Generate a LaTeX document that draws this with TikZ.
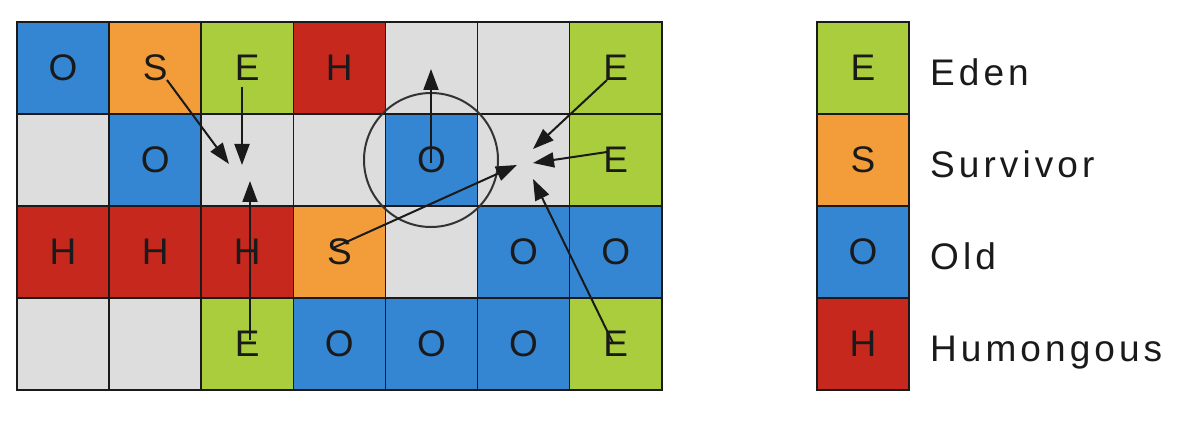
\documentclass[tikz,border=0pt]{standalone}
\usepackage{fontspec}
\setmainfont{Liberation Sans}
\usetikzlibrary{arrows.meta,calc}
\definecolor{cE}{HTML}{A9CD3C}
\definecolor{cS}{HTML}{F39D3A}
\definecolor{cO}{HTML}{3586D2}
\definecolor{cH}{HTML}{C7281E}
\definecolor{cG}{HTML}{DDDDDD}
\definecolor{ink}{HTML}{1A1A1A}
\begin{document}
\begin{tikzpicture}[x=1pt,y=-1pt,
  cell/.style={draw=ink,line width=1.6pt,minimum width=92.1pt,minimum height=92pt,inner sep=0pt,
    font=\fontsize{37}{44}\selectfont,text=ink},
  cellE/.style={fill=cE},
  cellS/.style={fill=cS},
  cellO/.style={fill=cO},
  cellH/.style={fill=cH},
  cellG/.style={fill=cG},
  lbl/.style={anchor=base west,inner sep=0pt,text=ink,
    font=\fontsize{37}{44}\selectfont\addfontfeature{LetterSpace=11}},
  arr/.style={line width=2pt,draw=ink,-{Triangle[length=21pt,width=15pt]}},
  ring/.style={draw=black!80,line width=2pt,circle,minimum size=134pt,inner sep=0pt}]
\useasboundingbox (0,0) rectangle (1192,446);
\fill[white] (0,0) rectangle (1192,446);
\foreach \t/\l [count=\i from 0] in {O/O,S/S,E/E,H/H,G/,G/,E/E, G/,O/O,G/,G/,O/O,G/,E/E, H/H,H/H,H/H,S/S,G/,O/O,O/O, G/,G/,E/E,O/O,O/O,O/O,E/E} {
  \pgfmathtruncatemacro\c{mod(\i,7)}
  \pgfmathtruncatemacro\r{div(\i,7)}
  \node[cell,cell\t] (c\c\r) at ({17+92.1*(\c+0.5)},{22+92*(\r+0.5)}) {\l};
}
% legend
\foreach \t/\n [count=\r from 0] in {E/Eden,S/Survivor,O/Old,H/Humongous} {
  \node[cell,cell\t,minimum width=92pt] (l\r) at (863,{22+92*(\r+0.5)}) {\t};
  \node[lbl] (t\r) at (930,{22+92*(\r+0.5)+18}) {\n};
}
% ring
\node[ring] (ring) at (431,160) {};
% arrow end points
\coordinate (s1) at (167,80);  \coordinate (e1) at (229,164);
\coordinate (s2) at (242,87);  \coordinate (e2) at (242,165);
\coordinate (s3) at (250,340); \coordinate (e3) at (250,181);
\coordinate (s4) at (431,163); \coordinate (e4) at (431,69);
\coordinate (s5) at (607,80);  \coordinate (e5) at (533,149);
\coordinate (s6) at (607,152); \coordinate (e6) at (533,163);
\coordinate (s7) at (613,343); \coordinate (e7) at (533,179);
\coordinate (s8) at (333,248); \coordinate (e8) at (517,165);
\foreach \k in {1,...,8} { \draw[arr] (s\k) -- (e\k); }
\end{tikzpicture}
\end{document}
